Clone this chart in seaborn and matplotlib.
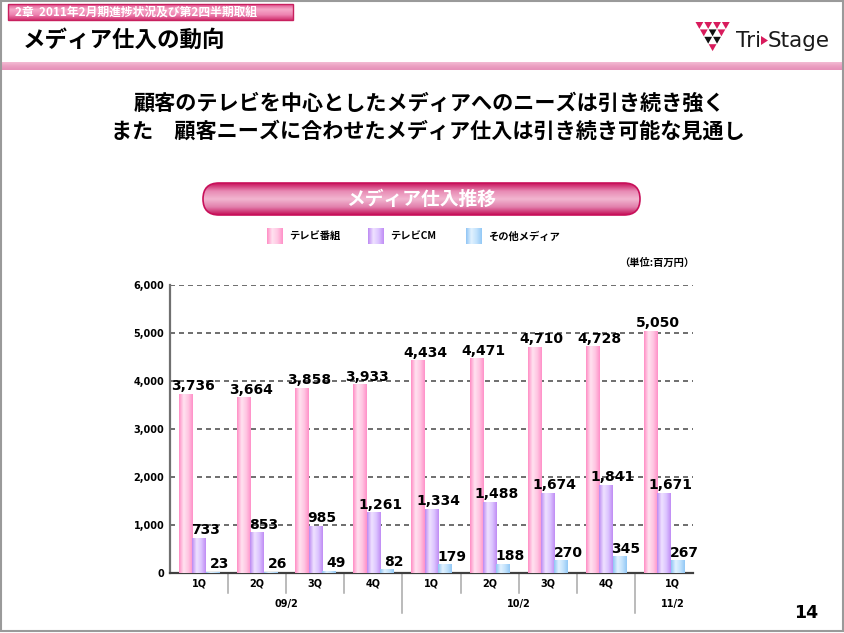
import numpy as np
import pandas as pd
import matplotlib
matplotlib.use("Agg")
import matplotlib.pyplot as plt
from matplotlib.colors import LinearSegmentedColormap
from matplotlib.patches import Rectangle, FancyBboxPatch, Polygon
import seaborn as sns

# ---------------- data ----------------
quarters = ["1Q", "2Q", "3Q", "4Q", "1Q", "2Q", "3Q", "4Q", "1Q"]
periods = ["09/2", "10/2", "11/2"]
series_names = ["テレビ番組", "テレビCM", "その他メディア"]
tv_program = [3736, 3664, 3858, 3933, 4434, 4471, 4710, 4728, 5050]
tv_cm = [733, 853, 985, 1261, 1334, 1488, 1674, 1841, 1671]
other_media = [23, 26, 49, 82, 179, 188, 270, 345, 267]
y_ticks = [0, 1000, 2000, 3000, 4000, 5000, 6000]

slots = [f"{p}-{i}" for i, p in enumerate(["09/2"] * 4 + ["10/2"] * 4 + ["11/2"])]
df = pd.DataFrame({
    "slot": slots * 3,
    "series": sum([[s] * 9 for s in series_names], []),
    "value": tv_program + tv_cm + other_media,
})

plt.rcParams["font.family"] = ["Noto Sans CJK JP", "DejaVu Sans"]
JP = ["Noto Sans CJK JP", "DejaVu Sans"]
NUM = ["DejaVu Sans"]

W, H = 845, 633
fig = plt.figure(figsize=(W / 100, H / 100), dpi=100)
fig.patch.set_facecolor("white")

bg = fig.add_axes([0, 0, 1, 1])
bg.set_xlim(0, W)
bg.set_ylim(H, 0)
bg.axis("off")


def vgrad(axx, x0, x1, y0, y1, colors, clip=None, z=1):
    cmap = LinearSegmentedColormap.from_list("g", colors)
    arr = np.linspace(0, 1, 256).reshape(-1, 1)
    im = axx.imshow(arr, extent=(x0, x1, y1, y0), origin="upper", aspect="auto",
                    cmap=cmap, zorder=z, interpolation="bilinear")
    if clip is not None:
        im.set_clip_path(clip)
    return im


def hgrad_bg(axx, x0, x1, y0, y1, colors, z=3):
    cmap = LinearSegmentedColormap.from_list("g", colors)
    arr = np.linspace(0, 1, 256).reshape(1, -1)
    axx.imshow(arr, extent=(x0, x1, y1, y0), origin="upper", aspect="auto",
               cmap=cmap, zorder=z, interpolation="bilinear")


# frame
bg.add_patch(Rectangle((1, 1), W - 3, H - 3, fill=False, edgecolor="#9a9a9a", lw=1.5, zorder=10))

# header banner
hb = Rectangle((8, 4), 285, 16, facecolor="none", edgecolor="#c8205e", lw=1, zorder=3)
bg.add_patch(hb)
vgrad(bg, 8, 293, 4, 20, ["#e0508c", "#f5a8c8", "#ee84b2", "#d0306e"], z=2)
bg.text(15, 12.5, "2章  2011年2月期進捗状況及び第2四半期取組", color="white", fontsize=8.5,
        fontweight="bold", va="center", ha="left", family=JP, zorder=4)

# title
bg.text(23, 40, "メディア仕入の動向", color="black", fontsize=16.2, fontweight="bold",
        va="center", ha="left", family=JP, zorder=4)

# pink band
vgrad(bg, 2, W - 2, 62, 70, ["#f4bcd4", "#eba0c2", "#e690b8"], z=2)

# logo triangles
tw, th = 8.8, 7.4
rows = [["p", "p", "p", "p"], ["p", "k", "p"], ["k", "k"], ["p"]]
for r, row in enumerate(rows):
    for c, col in enumerate(row):
        x0 = 695 + r * tw / 2 + c * tw
        y0 = 22 + r * th
        color = "#d81b5c" if col == "p" else "#111111"
        bg.add_patch(Polygon([(x0 + 0.5, y0), (x0 + tw - 0.5, y0), (x0 + tw / 2, y0 + th - 0.5)],
                             closed=True, facecolor=color, edgecolor="none", zorder=4))
bg.text(736, 41, "Tri", fontsize=15.5, color="#1a1a1a", va="center", ha="left", family=NUM, zorder=4)
bg.add_patch(Polygon([(761, 36), (761, 45), (768, 40.5)], closed=True, facecolor="#d81b5c",
                     edgecolor="none", zorder=4))
bg.text(768, 41, "Stage", fontsize=15.5, color="#1a1a1a", va="center", ha="left", family=NUM, zorder=4)

# subtitle
bg.text(429, 103, "顧客のテレビを中心としたメディアへのニーズは引き続き強く", fontsize=15.2,
        fontweight="bold", ha="center", va="center", family=JP, zorder=4)
bg.text(428, 131, "また　顧客ニーズに合わせたメディア仕入は引き続き可能な見通し", fontsize=15.2,
        fontweight="bold", ha="center", va="center", family=JP, zorder=4)

# pill banner
pill = FancyBboxPatch((203, 183), 437, 32, boxstyle="round,pad=0,rounding_size=16",
                      facecolor="none", edgecolor="#c8105a", lw=1.2, zorder=3)
bg.add_patch(pill)
vgrad(bg, 203, 640, 183, 215, ["#c8105a", "#e88ab4", "#f2b6d0", "#e27fac", "#c40c55"], clip=pill, z=2)
bg.text(421, 199, "メディア仕入推移", color="white", fontsize=13.5, fontweight="bold",
        ha="center", va="center", family=JP, zorder=4)

# bar colour gradients (edge, light, mid, edge)
grads = [
    ["#ff8cc4", "#ffe2f0", "#ffc6e2", "#ff90c8"],
    ["#bb88f2", "#efe2ff", "#dcc4ff", "#c08cf4"],
    ["#8ec4f4", "#e2f2ff", "#c2e2fc", "#92c8f6"],
]
base_colors = ["#ffaad4", "#d2b0fa", "#b0d8fa"]

# legend
leg_x = [267, 368, 466]
for lx, name, gcols in zip(leg_x, series_names, grads):
    hgrad_bg(bg, lx, lx + 16, 228, 244, gcols, z=3)
    bg.text(lx + 22, 236.5, name, fontsize=7.4, fontweight="bold", ha="left", va="center",
            family=JP, zorder=4)

# unit
bg.text(694, 263, "（単位:百万円）", fontsize=7.4, fontweight="bold", ha="right", va="center",
        family=JP, zorder=4)

# page number
bg.text(818, 613, "14", fontsize=12.5, fontweight="bold", ha="right", va="center",
        family=NUM, zorder=4)

# ---------------- chart ----------------
ax = fig.add_axes([170 / W, 1 - 573 / H, 523 / W, 288 / H])
ax.patch.set_alpha(0)
sns.barplot(data=df, x="slot", y="value", hue="series", order=slots, hue_order=series_names,
            palette=base_colors, width=0.69, saturation=1, legend=False, ax=ax,
            edgecolor="none", linewidth=0, zorder=3)

for ci, cont in enumerate(ax.containers):
    cmap = LinearSegmentedColormap.from_list(f"b{ci}", grads[ci])
    arr = np.linspace(0, 1, 128).reshape(1, -1)
    for bar in cont:
        x0, w, h = bar.get_x(), bar.get_width(), bar.get_height()
        im = ax.imshow(arr, extent=(x0, x0 + w, 0, h), origin="lower", aspect="auto",
                       cmap=cmap, zorder=3.5, interpolation="bilinear")
        im.set_clip_path(bar)
        ax.text(x0 + w / 2 + 0.12, h + 10, f"{int(h):,}", ha="center", va="bottom",
                fontsize=10, fontweight="bold", family=NUM, color="black", zorder=5)

ax.set_xlim(-0.5, 8.5)
ax.set_ylim(0, 6000)
for y in y_ticks[1:]:
    ax.axhline(y, color="#555555", ls=(0, (3, 2.4)), lw=1.2, zorder=1)

ax.set_yticks(y_ticks)
ax.set_yticklabels([f"{v:,}" for v in y_ticks], fontsize=7, fontweight="bold", family=NUM)
ax.tick_params(axis="y", length=0, pad=4)
ax.set_xticks([])
ax.set_xlabel("")
ax.set_ylabel("")
for s in ["top", "right"]:
    ax.spines[s].set_visible(False)
ax.spines["left"].set_color("#707070")
ax.spines["left"].set_linewidth(1.6)
ax.spines["bottom"].set_color("#404040")
ax.spines["bottom"].set_linewidth(1.6)

xt = ax.get_xaxis_transform()
for i, q in enumerate(quarters):
    xpos = i if i < 8 else 8.15
    ax.text(xpos, -10 / 288, q, transform=xt, ha="center", va="center", fontsize=7,
            fontweight="bold", family=NUM, clip_on=False)
for xpos, p in zip([1.51, 5.51, 8.16], periods):
    ax.text(xpos, -31 / 288, p, transform=xt, ha="center", va="center", fontsize=7,
            fontweight="bold", family=NUM, clip_on=False)
for i in range(8):
    xs = i + 0.5
    depth = 40 / 288 if i in (3, 7) else 20 / 288
    ax.plot([xs, xs], [0, -depth], transform=xt, color="#a8a8a8", lw=1.1, clip_on=False,
            zorder=2)

fig.savefig("out.png", dpi=100, facecolor="white")
